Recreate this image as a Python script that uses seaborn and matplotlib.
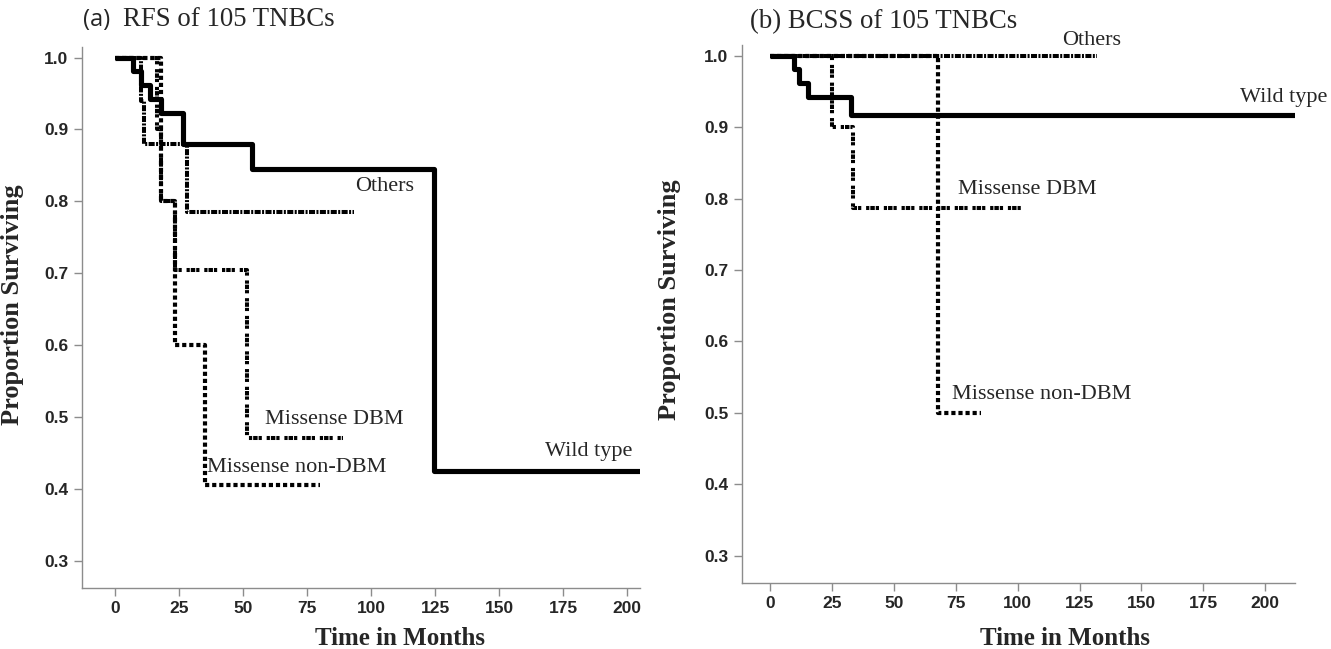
import matplotlib
matplotlib.use("Agg")
import matplotlib.pyplot as plt
import seaborn as sns
import pandas as pd

# (a) RFS of 105 TNBCs - Kaplan-Meier steps
rfs_wild_t = [0, 7, 10, 13.5, 18, 26.5, 53.5, 124.5]
rfs_wild_s = [1.0, 0.981, 0.962, 0.942, 0.923, 0.88, 0.845, 0.425]
rfs_wild_end = 207

rfs_others_t = [0, 10, 11.5, 28]
rfs_others_s = [1.0, 0.94, 0.88, 0.785]
rfs_others_end = 93.5

rfs_dbm_t = [0, 16.5, 18, 23.5, 51.5]
rfs_dbm_s = [1.0, 0.9, 0.8, 0.705, 0.47]
rfs_dbm_end = 89

rfs_nondbm_t = [0, 18, 23.5, 35]
rfs_nondbm_s = [1.0, 0.8, 0.6, 0.405]
rfs_nondbm_end = 80

# (b) BCSS of 105 TNBCs
bcss_wild_t = [0, 9.5, 11.5, 15.5, 32.5]
bcss_wild_s = [1.0, 0.981, 0.962, 0.942, 0.917]
bcss_wild_end = 215

bcss_others_t = [0]
bcss_others_s = [1.0]
bcss_others_end = 132

bcss_dbm_t = [0, 25, 33.5]
bcss_dbm_s = [1.0, 0.9, 0.787]
bcss_dbm_end = 102

bcss_nondbm_t = [0, 68]
bcss_nondbm_s = [1.0, 0.5]
bcss_nondbm_end = 85

groups = ['Wild type', 'Others', 'Missense DBM', 'Missense non-DBM']
y_ticks = [0.3, 0.4, 0.5, 0.6, 0.7, 0.8, 0.9, 1.0]
y_tick_labels = ['0.3', '0.4', '0.5', '0.6', '0.7', '0.8', '0.9', '1.0']
x_ticks = [0, 25, 50, 75, 100, 125, 150, 175, 200]

sns.set_style('ticks')
plt.rcParams['font.family'] = ['Liberation Serif', 'DejaVu Serif']

styles = {
    'Wild type': dict(lw=3.7, ls='-'),
    'Others': dict(lw=2.9, ls=(0, (1.5, 0.35, 0.5, 0.35))),
    'Missense DBM': dict(lw=2.9, ls=(0, (0.8, 0.25, 1.1, 0.25, 0.8, 1.2))),
    'Missense non-DBM': dict(lw=3.0, ls=(0, (1.0, 0.7))),
}


def km_frame(t, s, end):
    return pd.DataFrame({'t': list(t) + [end], 's': list(s) + [s[-1]]})


fig = plt.figure(figsize=(13.31, 6.49), dpi=100)
ax1 = fig.add_axes([0.0614, 0.094, 0.4195, 0.834])
ax2 = fig.add_axes([0.5572, 0.1017, 0.4157, 0.829])

panels = [
    (ax1, {
        'Wild type': (rfs_wild_t, rfs_wild_s, rfs_wild_end),
        'Others': (rfs_others_t, rfs_others_s, rfs_others_end),
        'Missense DBM': (rfs_dbm_t, rfs_dbm_s, rfs_dbm_end),
        'Missense non-DBM': (rfs_nondbm_t, rfs_nondbm_s, rfs_nondbm_end),
    }, (-13, 205)),
    (ax2, {
        'Wild type': (bcss_wild_t, bcss_wild_s, bcss_wild_end),
        'Others': (bcss_others_t, bcss_others_s, bcss_others_end),
        'Missense DBM': (bcss_dbm_t, bcss_dbm_s, bcss_dbm_end),
        'Missense non-DBM': (bcss_nondbm_t, bcss_nondbm_s, bcss_nondbm_end),
    }, (-11.5, 212)),
]

for ax, curves, xlim in panels:
    for g in groups[::-1]:
        t, s, end = curves[g]
        sns.lineplot(data=km_frame(t, s, end), x='t', y='s', ax=ax,
                     drawstyle='steps-post', estimator=None, sort=False,
                     color='black', linewidth=styles[g]['lw'],
                     linestyle=styles[g]['ls'], solid_capstyle='butt',
                     dash_capstyle='butt')
    ax.set_xlim(*xlim)
    ax.set_ylim(0.262, 1.015)
    ax.set_xticks(x_ticks)
    ax.set_xticklabels([str(v) for v in x_ticks])
    ax.set_yticks(y_ticks)
    ax.set_yticklabels(y_tick_labels)
    sns.despine(ax=ax)
    for sp in ['left', 'bottom']:
        ax.spines[sp].set_color('#8c8c8c')
        ax.spines[sp].set_linewidth(1.0)
    ax.tick_params(direction='out', length=6, width=1.0, color='#8c8c8c',
                   labelsize=12.5)
    for lab in ax.get_xticklabels() + ax.get_yticklabels():
        lab.set_family(['Liberation Sans', 'DejaVu Sans'])
        lab.set_fontweight('bold')
    ax.set_xlabel('Time in Months', fontsize=18, fontweight='bold')
    ax.set_ylabel('Proportion Surviving', fontsize=19, fontweight='bold')

ax1.xaxis.set_label_coords(0.57, -0.072)
ax1.yaxis.set_label_coords(-0.103, 0.523)
ax2.xaxis.set_label_coords(0.585, -0.082)
ax2.yaxis.set_label_coords(-0.11, 0.526)

lab_kw = dict(fontsize=16, ha='left', va='center')
ax1.text(93.8, 0.820, 'Others', **lab_kw)
ax1.text(58.6, 0.496, 'Missense DBM', **lab_kw)
ax1.text(36, 0.429, 'Missense non-DBM', **lab_kw)
ax1.text(168, 0.452, 'Wild type', **lab_kw)

ax2.text(118, 1.021, 'Others', **lab_kw)
ax2.text(190, 0.942, 'Wild type', **lab_kw)
ax2.text(76, 0.813, 'Missense DBM', **lab_kw)
ax2.text(73.5, 0.526, 'Missense non-DBM', **lab_kw)

fig.text(83 / 1331, 1 - 20 / 649, '(a)', fontsize=17, va='center',
         family=['Open Sans', 'DejaVu Sans'])
fig.text(123 / 1331, 1 - 20 / 649, 'RFS of 105 TNBCs', fontsize=19.3,
         va='center')
fig.text(750 / 1331, 1 - 22 / 649, '(b) BCSS of 105 TNBCs', fontsize=19.3,
         va='center')

fig.savefig('out.png', dpi=100)
